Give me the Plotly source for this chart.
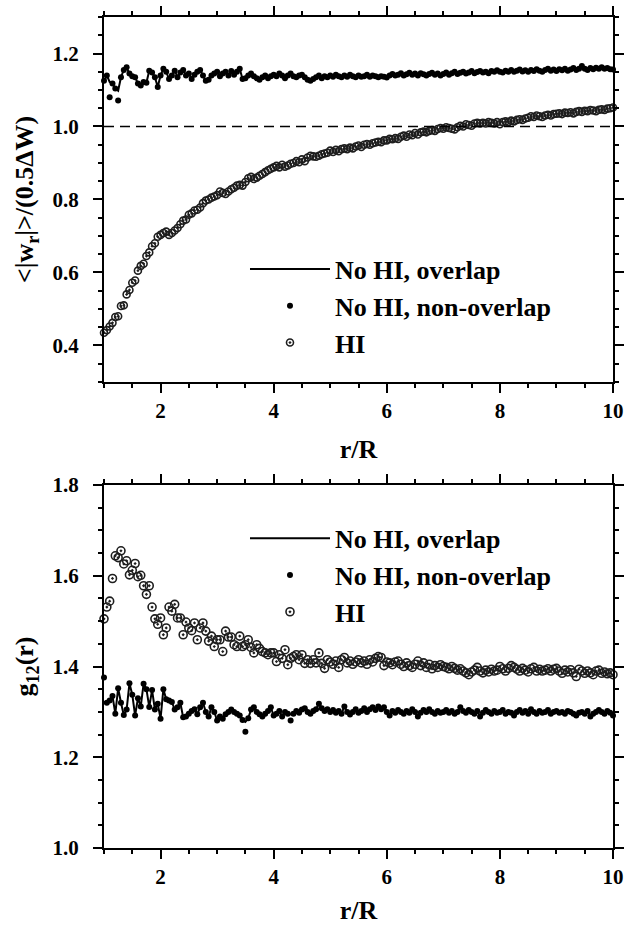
import plotly.graph_objects as go

# r/R sampling positions (shared by all series)
r_R = [
    1.00, 1.05, 1.10, 1.15, 1.20, 1.25, 1.30, 1.35, 1.40, 1.45, 1.50, 1.55, 1.60, 1.65, 1.70, 1.75, 1.80, 1.85, 1.90, 1.95,
    2.00, 2.05, 2.10, 2.15, 2.20, 2.25, 2.30, 2.35, 2.40, 2.45, 2.50, 2.55, 2.60, 2.65, 2.70, 2.75, 2.80, 2.85, 2.90, 2.95,
    3.00, 3.05, 3.10, 3.15, 3.20, 3.25, 3.30, 3.35, 3.40, 3.45, 3.50, 3.55, 3.60, 3.65, 3.70, 3.75, 3.80, 3.85, 3.90, 3.95,
    4.00, 4.05, 4.10, 4.15, 4.20, 4.25, 4.30, 4.35, 4.40, 4.45, 4.50, 4.55, 4.60, 4.65, 4.70, 4.75, 4.80, 4.85, 4.90, 4.95,
    5.00, 5.05, 5.10, 5.15, 5.20, 5.25, 5.30, 5.35, 5.40, 5.45, 5.50, 5.55, 5.60, 5.65, 5.70, 5.75, 5.80, 5.85, 5.90, 5.95,
    6.00, 6.05, 6.10, 6.15, 6.20, 6.25, 6.30, 6.35, 6.40, 6.45, 6.50, 6.55, 6.60, 6.65, 6.70, 6.75, 6.80, 6.85, 6.90, 6.95,
    7.00, 7.05, 7.10, 7.15, 7.20, 7.25, 7.30, 7.35, 7.40, 7.45, 7.50, 7.55, 7.60, 7.65, 7.70, 7.75, 7.80, 7.85, 7.90, 7.95,
    8.00, 8.05, 8.10, 8.15, 8.20, 8.25, 8.30, 8.35, 8.40, 8.45, 8.50, 8.55, 8.60, 8.65, 8.70, 8.75, 8.80, 8.85, 8.90, 8.95,
    9.00, 9.05, 9.10, 9.15, 9.20, 9.25, 9.30, 9.35, 9.40, 9.45, 9.50, 9.55, 9.60, 9.65, 9.70, 9.75, 9.80, 9.85, 9.90, 9.95,
    10.00,
]

# ---- Top panel: <|w_r|>/(0.5 dW) ----
w_nohi_overlap = [
    1.125, 1.140, 1.122, 1.118, 1.104, 1.098, 1.135, 1.155, 1.162, 1.145, 1.138, 1.135, 1.118, 1.112, 1.122, 1.120, 1.153, 1.148, 1.135, 1.108,
    1.140, 1.158, 1.150, 1.130, 1.140, 1.153, 1.135, 1.148, 1.155, 1.140, 1.145, 1.130, 1.142, 1.150, 1.155, 1.140, 1.125, 1.128, 1.140, 1.145,
    1.150, 1.138, 1.145, 1.150, 1.140, 1.152, 1.142, 1.150, 1.158, 1.130, 1.132, 1.140, 1.145, 1.138, 1.132, 1.128, 1.135, 1.140, 1.132, 1.138,
    1.142, 1.138, 1.145, 1.140, 1.132, 1.140, 1.145, 1.138, 1.135, 1.140, 1.142, 1.135, 1.128, 1.125, 1.130, 1.135, 1.140, 1.132, 1.138, 1.135,
    1.140, 1.136, 1.142, 1.138, 1.135, 1.140, 1.136, 1.142, 1.138, 1.135, 1.140, 1.136, 1.138, 1.142, 1.136, 1.140, 1.138, 1.135, 1.138, 1.136,
    1.134, 1.140, 1.144, 1.140, 1.142, 1.146, 1.140, 1.143, 1.147, 1.142, 1.145, 1.140, 1.146, 1.143, 1.140, 1.144, 1.147, 1.142, 1.145, 1.140,
    1.144, 1.148, 1.142, 1.146, 1.150, 1.144, 1.147, 1.150, 1.145, 1.148, 1.152, 1.146, 1.149, 1.152, 1.148, 1.150, 1.146, 1.152, 1.150, 1.154,
    1.150, 1.148, 1.153, 1.150, 1.155, 1.150, 1.153, 1.156, 1.151, 1.154, 1.150, 1.155, 1.152, 1.157, 1.153, 1.150, 1.155, 1.158, 1.153, 1.156,
    1.152, 1.157, 1.154, 1.158, 1.153, 1.156, 1.160, 1.155, 1.158, 1.166, 1.158, 1.155, 1.160, 1.157, 1.161, 1.158, 1.162, 1.158, 1.160, 1.157,
    1.156,
]
w_nohi_nonoverlap = [
    1.125, 1.140, 1.080, 1.118, 1.104, 1.071, 1.135, 1.155, 1.162, 1.145, 1.138, 1.135, 1.118, 1.112, 1.122, 1.120, 1.153, 1.148, 1.135, 1.108,
    1.140, 1.158, 1.150, 1.130, 1.140, 1.153, 1.135, 1.148, 1.155, 1.140, 1.145, 1.130, 1.142, 1.150, 1.155, 1.140, 1.125, 1.128, 1.140, 1.145,
    1.150, 1.138, 1.145, 1.150, 1.140, 1.152, 1.142, 1.150, 1.158, 1.130, 1.132, 1.140, 1.145, 1.138, 1.132, 1.128, 1.135, 1.140, 1.132, 1.138,
    1.142, 1.138, 1.145, 1.140, 1.132, 1.140, 1.145, 1.138, 1.135, 1.140, 1.142, 1.135, 1.128, 1.125, 1.130, 1.135, 1.140, 1.132, 1.138, 1.135,
    1.140, 1.136, 1.142, 1.138, 1.135, 1.140, 1.136, 1.142, 1.138, 1.135, 1.140, 1.136, 1.138, 1.142, 1.136, 1.140, 1.138, 1.135, 1.138, 1.136,
    1.134, 1.140, 1.144, 1.140, 1.142, 1.146, 1.140, 1.143, 1.147, 1.142, 1.145, 1.140, 1.146, 1.143, 1.140, 1.144, 1.147, 1.142, 1.145, 1.140,
    1.144, 1.148, 1.142, 1.146, 1.150, 1.144, 1.147, 1.150, 1.145, 1.148, 1.152, 1.146, 1.149, 1.152, 1.148, 1.150, 1.146, 1.152, 1.150, 1.154,
    1.150, 1.148, 1.153, 1.150, 1.155, 1.150, 1.153, 1.156, 1.151, 1.154, 1.150, 1.155, 1.152, 1.157, 1.153, 1.150, 1.155, 1.158, 1.153, 1.156,
    1.152, 1.157, 1.154, 1.158, 1.153, 1.156, 1.160, 1.155, 1.158, 1.166, 1.158, 1.155, 1.160, 1.157, 1.161, 1.158, 1.162, 1.158, 1.160, 1.157,
    1.156,
]
w_hi = [
    0.435, 0.442, 0.452, 0.462, 0.478, 0.480, 0.508, 0.510, 0.540, 0.552, 0.572, 0.578, 0.605, 0.618, 0.624, 0.645, 0.655, 0.672, 0.680, 0.698,
    0.703, 0.708, 0.712, 0.703, 0.708, 0.715, 0.722, 0.732, 0.742, 0.745, 0.758, 0.762, 0.770, 0.772, 0.778, 0.790, 0.797, 0.800, 0.805, 0.808,
    0.812, 0.822, 0.818, 0.815, 0.822, 0.828, 0.832, 0.838, 0.840, 0.838, 0.848, 0.858, 0.862, 0.856, 0.860, 0.865, 0.870, 0.875, 0.880, 0.884,
    0.888, 0.892, 0.888, 0.895, 0.890, 0.893, 0.898, 0.900, 0.905, 0.902, 0.910, 0.905, 0.915, 0.920, 0.918, 0.917, 0.920, 0.924, 0.926, 0.928,
    0.934, 0.930, 0.936, 0.932, 0.938, 0.940, 0.938, 0.942, 0.940, 0.945, 0.948, 0.944, 0.950, 0.952, 0.950, 0.954, 0.956, 0.958, 0.957, 0.962,
    0.962, 0.966, 0.965, 0.968, 0.966, 0.972, 0.975, 0.972, 0.978, 0.976, 0.982, 0.978, 0.984, 0.986, 0.984, 0.988, 0.990, 0.988, 0.993, 0.996,
    0.994, 0.998, 0.996, 0.994, 0.992, 0.998, 1.002, 1.000, 1.006, 1.004, 1.002, 1.008, 1.010, 1.008, 1.010, 1.008, 1.012, 1.010, 1.008, 1.012,
    1.006, 1.012, 1.014, 1.012, 1.016, 1.014, 1.018, 1.020, 1.018, 1.022, 1.024, 1.028, 1.026, 1.030, 1.028, 1.026, 1.030, 1.032, 1.030, 1.034,
    1.035, 1.036, 1.034, 1.038, 1.037, 1.039, 1.036, 1.040, 1.042, 1.040, 1.043, 1.042, 1.045, 1.044, 1.042, 1.046, 1.047, 1.045, 1.049, 1.050,
    1.052,
]

# ---- Bottom panel: g12(r) ----
g_nohi_overlap = [
    1.322, 1.320, 1.325, 1.335, 1.296, 1.352, 1.320, 1.293, 1.305, 1.363, 1.338, 1.292, 1.330, 1.312, 1.362, 1.350, 1.311, 1.348, 1.305, 1.318,
    1.285, 1.350, 1.328, 1.325, 1.322, 1.305, 1.310, 1.320, 1.288, 1.290, 1.296, 1.302, 1.306, 1.295, 1.310, 1.320, 1.300, 1.290, 1.310, 1.300,
    1.281, 1.290, 1.285, 1.295, 1.300, 1.305, 1.300, 1.296, 1.292, 1.282, 1.278, 1.286, 1.305, 1.310, 1.300, 1.295, 1.290, 1.296, 1.302, 1.310,
    1.292, 1.296, 1.302, 1.290, 1.300, 1.296, 1.295, 1.296, 1.302, 1.298, 1.305, 1.308, 1.300, 1.296, 1.302, 1.306, 1.318, 1.308, 1.302, 1.306,
    1.300, 1.304, 1.298, 1.302, 1.296, 1.312, 1.300, 1.294, 1.300, 1.306, 1.298, 1.302, 1.308, 1.300, 1.306, 1.310, 1.304, 1.312, 1.306, 1.310,
    1.300, 1.292, 1.302, 1.298, 1.304, 1.300, 1.296, 1.302, 1.298, 1.306, 1.300, 1.290, 1.298, 1.304, 1.300, 1.306, 1.300, 1.296, 1.302, 1.298,
    1.300, 1.304, 1.298, 1.302, 1.296, 1.300, 1.310, 1.302, 1.298, 1.304, 1.300, 1.296, 1.302, 1.290, 1.298, 1.304, 1.300, 1.296, 1.302, 1.298,
    1.300, 1.304, 1.296, 1.300, 1.298, 1.292, 1.300, 1.304, 1.298, 1.302, 1.296, 1.306, 1.300, 1.296, 1.302, 1.298, 1.300, 1.304, 1.296, 1.300,
    1.302, 1.298, 1.300, 1.296, 1.302, 1.300, 1.296, 1.292, 1.298, 1.300, 1.296, 1.302, 1.290, 1.296, 1.300, 1.304, 1.300, 1.296, 1.302, 1.298,
    1.292,
]
g_nohi_nonoverlap = [
    1.376, 1.320, 1.325, 1.335, 1.296, 1.352, 1.320, 1.293, 1.305, 1.363, 1.338, 1.292, 1.330, 1.312, 1.362, 1.350, 1.311, 1.348, 1.305, 1.318,
    1.285, 1.350, 1.328, 1.325, 1.322, 1.305, 1.310, 1.320, 1.288, 1.290, 1.296, 1.302, 1.306, 1.295, 1.310, 1.320, 1.300, 1.290, 1.310, 1.300,
    1.281, 1.290, 1.285, 1.295, 1.300, 1.305, 1.300, 1.296, 1.292, 1.282, 1.256, 1.286, 1.305, 1.310, 1.300, 1.295, 1.290, 1.296, 1.302, 1.310,
    1.292, 1.296, 1.302, 1.290, 1.300, 1.296, 1.281, 1.296, 1.302, 1.298, 1.305, 1.308, 1.300, 1.296, 1.302, 1.306, 1.318, 1.308, 1.302, 1.306,
    1.300, 1.304, 1.298, 1.302, 1.296, 1.312, 1.300, 1.294, 1.300, 1.306, 1.298, 1.302, 1.308, 1.300, 1.306, 1.310, 1.304, 1.312, 1.306, 1.310,
    1.300, 1.292, 1.302, 1.298, 1.304, 1.300, 1.296, 1.302, 1.298, 1.306, 1.300, 1.290, 1.298, 1.304, 1.300, 1.306, 1.300, 1.296, 1.302, 1.298,
    1.300, 1.304, 1.298, 1.302, 1.296, 1.300, 1.310, 1.302, 1.298, 1.304, 1.300, 1.296, 1.302, 1.290, 1.298, 1.304, 1.300, 1.296, 1.302, 1.298,
    1.300, 1.304, 1.296, 1.300, 1.298, 1.292, 1.300, 1.304, 1.298, 1.302, 1.296, 1.306, 1.300, 1.296, 1.302, 1.298, 1.300, 1.304, 1.296, 1.300,
    1.302, 1.298, 1.300, 1.296, 1.302, 1.300, 1.296, 1.292, 1.298, 1.300, 1.296, 1.302, 1.290, 1.296, 1.300, 1.304, 1.300, 1.296, 1.302, 1.298,
    1.292,
]
g_hi = [
    1.505, 1.531, 1.544, 1.594, 1.644, 1.640, 1.655, 1.626, 1.633, 1.602, 1.612, 1.627, 1.598, 1.601, 1.578, 1.559, 1.578, 1.531, 1.505, 1.493,
    1.507, 1.470, 1.485, 1.531, 1.522, 1.537, 1.507, 1.507, 1.470, 1.498, 1.485, 1.479, 1.496, 1.459, 1.485, 1.496, 1.478, 1.456, 1.467, 1.444,
    1.459, 1.459, 1.433, 1.478, 1.465, 1.465, 1.448, 1.444, 1.467, 1.444, 1.448, 1.459, 1.442, 1.430, 1.448, 1.440, 1.433, 1.430, 1.426, 1.430,
    1.430, 1.411, 1.426, 1.418, 1.437, 1.404, 1.418, 1.422, 1.426, 1.415, 1.426, 1.407, 1.415, 1.407, 1.415, 1.408, 1.430, 1.407, 1.396, 1.415,
    1.410, 1.405, 1.412, 1.398, 1.415, 1.420, 1.408, 1.412, 1.405, 1.410, 1.415, 1.408, 1.412, 1.405, 1.415, 1.410, 1.418, 1.422, 1.420, 1.402,
    1.410, 1.408, 1.404, 1.410, 1.412, 1.405, 1.400, 1.408, 1.402, 1.398, 1.405, 1.412, 1.402, 1.408, 1.398, 1.405, 1.395, 1.402, 1.398, 1.404,
    1.400, 1.398, 1.395, 1.400, 1.396, 1.392, 1.395, 1.390, 1.386, 1.382, 1.388, 1.392, 1.398, 1.390, 1.386, 1.392, 1.388, 1.394, 1.390, 1.392,
    1.400, 1.395, 1.390, 1.396, 1.402, 1.398, 1.394, 1.390, 1.396, 1.392, 1.388, 1.395, 1.398, 1.390, 1.394, 1.390, 1.392, 1.395, 1.390, 1.394,
    1.396, 1.390, 1.385, 1.392, 1.388, 1.393, 1.386, 1.378, 1.394, 1.390, 1.385, 1.390, 1.386, 1.382, 1.390, 1.392, 1.385, 1.388, 1.384, 1.386,
    1.382,
]

x_range = [1, 10]
y_range_top = [0.3, 1.3]
y_range_bottom = [1.0, 1.8]
reference_level = 1.0

FONT = "Liberation Serif"
tickfont = dict(family=FONT, size=21, color="black", weight="bold")
titlefont = dict(family=FONT, size=26, color="black", weight="bold")
legendfont = dict(family=FONT, size=26, color="black", weight="bold")

fig = go.Figure()


def styles(ring_size):
    return {
        "line": dict(mode="lines", line=dict(color="black", width=2)),
        "dots": dict(mode="markers", marker=dict(color="black", size=6)),
        "rings": dict(mode="markers", marker=dict(symbol="circle-open-dot", size=ring_size,
                                                   color="#1e1e1e", line=dict(width=1.6))),
    }


for xa, ya, lg, ring_size, data in [
    ("x", "y", "legend", 7, (w_nohi_overlap, w_nohi_nonoverlap, w_hi)),
    ("x2", "y2", "legend2", 8, (g_nohi_overlap, g_nohi_nonoverlap, g_hi)),
]:
    st = styles(ring_size)
    for name, key, yv in zip(["No HI, overlap", "No HI, non-overlap", "HI"],
                             ["line", "dots", "rings"], data):
        fig.add_trace(go.Scatter(x=r_R, y=yv, name=name, xaxis=xa, yaxis=ya,
                                 legend=lg, cliponaxis=False, **st[key]))

axis_common = dict(
    showline=True, linecolor="black", linewidth=2, mirror="allticks",
    ticks="outside", ticklen=9, tickwidth=2, tickcolor="black",
    tickfont=tickfont, showgrid=False, zeroline=False, automargin=False,
    ticklabeloverflow="allow",
)
x_common = dict(axis_common, range=x_range, tick0=0, dtick=2,
                minor=dict(ticks="outside", ticklen=4, tickwidth=1.5, tickcolor="black",
                           dtick=0.5, tick0=0, showgrid=False),
                title=dict(text="r/R", font=titlefont, standoff=18))
y_minor = dict(ticks="outside", ticklen=4, tickwidth=1.5, tickcolor="black",
               dtick=0.05, tick0=0, showgrid=False)

fig.update_layout(
    width=628, height=925,
    margin=dict(l=104, r=15, t=17, b=77),
    paper_bgcolor="white", plot_bgcolor="white",
    showlegend=True,
    xaxis=dict(x_common, anchor="y", domain=[0, 1]),
    yaxis=dict(axis_common, anchor="x", domain=[0.5608, 1.0], range=y_range_top,
               tick0=0, dtick=0.2, tickformat=".1f", minor=y_minor, ticklabelstandoff=10,
               title=dict(text="&lt;|w<sub>r</sub>|&gt;/(0.5ΔW)", font=titlefont, standoff=11)),
    xaxis2=dict(x_common, anchor="y2", domain=[0, 1]),
    yaxis2=dict(axis_common, anchor="x2", domain=[0.0, 0.4368], range=y_range_bottom,
                tick0=0, dtick=0.2, tickformat=".1f", minor=y_minor, ticklabelstandoff=10,
                title=dict(text="g<sub>12</sub>(r)", font=titlefont, standoff=11)),
    legend=dict(x=0.277, y=0.725, xanchor="left", yanchor="top", font=legendfont,
                bgcolor="rgba(0,0,0,0)", borderwidth=0, itemwidth=80, tracegroupgap=0),
    legend2=dict(x=0.277, y=0.401, xanchor="left", yanchor="top", font=legendfont,
                 bgcolor="rgba(0,0,0,0)", borderwidth=0, itemwidth=80, tracegroupgap=0),
    shapes=[dict(type="line", xref="x", yref="y", x0=x_range[0], x1=x_range[1],
                 y0=reference_level, y1=reference_level,
                 line=dict(color="black", width=1.5, dash="10px,6px"))],
)

fig.write_html("out.html", config={"displayModeBar": False},
               post_script="document.body.style.margin='0';document.body.style.overflow='hidden';")
